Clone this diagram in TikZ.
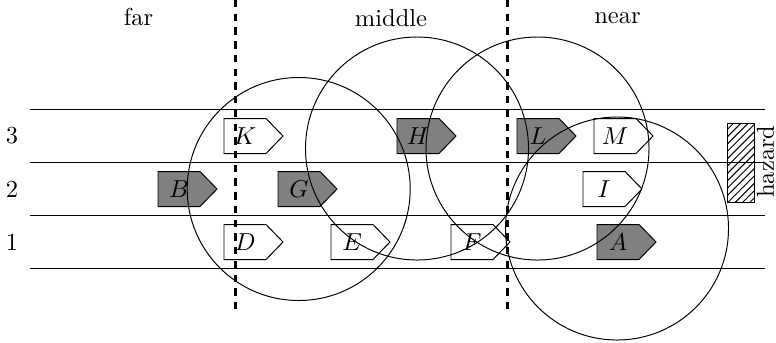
\documentclass[tikz,border=0pt]{standalone}
\usetikzlibrary{patterns}

% one drawing unit = 0.408pt, y grows downwards
\tikzset{
  lane/.style={line width=0.45pt},
  zone/.style={line width=0.9pt, dash pattern=on 3pt off 2.6pt},
  vehline/.style={line width=0.4pt},
  vlabel/.style={inner sep=0pt},
  rangec/.style={circle, draw, line width=0.4pt, minimum size=91pt, inner sep=0pt},
  heading/.style={anchor=base, inner sep=0pt},
  lanenum/.style={inner sep=0pt},
}

% vehicle: #1 name, #2 left edge, #3 lane centre, #4 fill colour
\newcommand\vehicle[4]{%
  \filldraw[vehline, fill=#4] (#2,#3-17.5) -- ++(42,0) -- ++(17,17.5)
    -- ++(-17,17.5) -- ++(-42,0) -- cycle;
  \node[vlabel] (#1) at (#2+21,#3) {$#1$};
}

\begin{document}
\begin{tikzpicture}[x=0.408pt, y=-0.408pt]
  \useasboundingbox (0,0) rectangle (776,342);

  % lanes
  \draw[lane] (30,109.6) -- (765,109.6);
  \draw[lane] (30,162.5) -- (765,162.5);
  \draw[lane] (30,215.5) -- (765,215.5);
  \draw[lane] (30,268.5) -- (765,268.5);

  \node[lanenum] (n3) at (12,136) {3};
  \node[lanenum] (n2) at (12,189) {2};
  \node[lanenum] (n1) at (12,242) {1};

  % zone headings
  \node[heading] (far) at (138.5,25.7) {far};
  \node[heading] (middle) at (391,26.7) {middle};
  \node[heading] (near) at (617.5,23) {near};

  % hazard
  \path[pattern=north east lines] (727.5,123) rectangle (754.5,202);
  \draw[vehline] (727.5,123) rectangle (754.5,202);
  \node[rotate=90, inner sep=0pt] (hazard) at (765.5,161.5) {hazard};

  % vehicles
  \vehicle{K}{224}{136}{white}
  \vehicle{H}{397}{136}{gray}
  \vehicle{L}{517}{136}{gray}
  \vehicle{M}{594}{136}{white}
  \vehicle{B}{158}{189}{gray}
  \vehicle{G}{278}{189}{gray}
  \vehicle{I}{583}{189}{white}
  \vehicle{D}{224}{242}{white}
  \vehicle{E}{331}{242}{white}
  \vehicle{F}{451}{242}{white}
  \vehicle{A}{597}{242}{gray}

  % communication ranges
  \node[rangec] (rG) at (298.7,189) {};
  \node[rangec] (rH) at (417,148.5) {};
  \node[rangec] (rL) at (537.5,148.5) {};
  \node[rangec] (rA) at (617,228.5) {};

  % zone borders
  \draw[zone] (235.5,0) -- (235.5,313);
  \draw[zone] (507.5,0) -- (507.5,313);
\end{tikzpicture}
\end{document}
